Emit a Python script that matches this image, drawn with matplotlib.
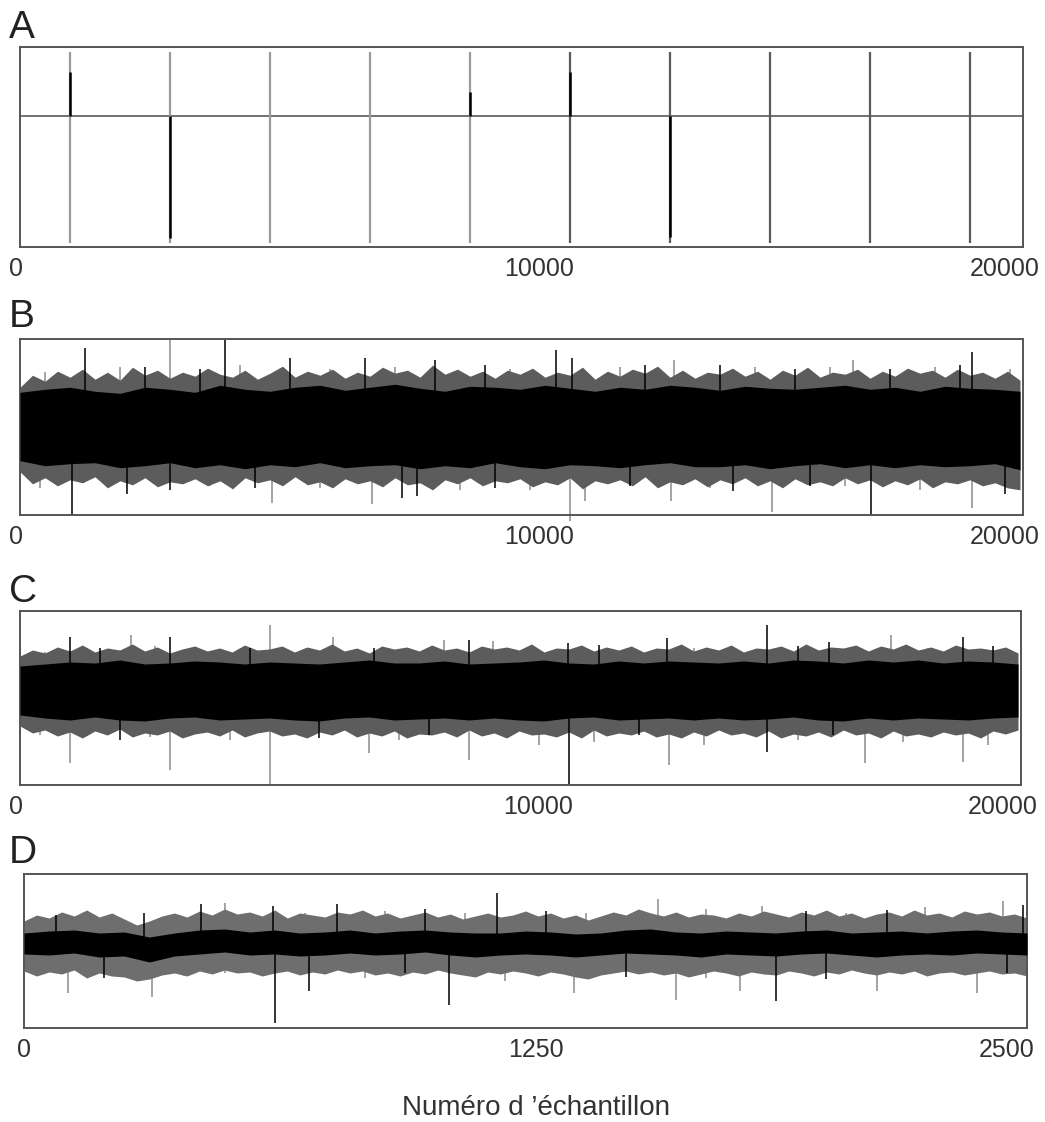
"""Four stacked traces: event train (A), two noisy recordings (B, C), zoom of one (D)."""

import matplotlib

matplotlib.use("Agg")
import matplotlib.pyplot as plt
import matplotlib.transforms as mtrans

plt.rcParams["font.family"] = ["Liberation Sans", "DejaVu Sans"]

# ---- data (amplitudes in arbitrary units, 0 = baseline) ----
# A: event positions, marker colours and the signal spike at each event
A_EVENTS = [1000, 3000, 5000, 7000, 9000, 11000, 13000, 15000, 17000, 19000]
A_MARK_COL = ["#9a9a9a"] * 5 + ["#5a5a5a"] * 5
A_SPIKE = [44, -122, 0, 0, 24, 44, -121, 0, 0, 0]
A_MARK_TOP, A_MARK_BOT = 64, -127

FRINGE_X_LONG = list(range(0, 20001, 250))
CORE_X_LONG = list(range(0, 20001, 500))
FRINGE_X_SHORT = [i * 31.25 for i in range(81)]
CORE_X_SHORT = [i * 62.5 for i in range(41)]

# B envelopes: outer (grey fringe) and inner (solid black core)
B_FRINGE_HI = [40, 52, 46, 56, 50, 58, 48, 55, 47, 60, 52, 57, 49, 55, 51, 59, 53, 50, 57, 48,
               54, 61, 50, 56, 52, 58, 49, 55, 51, 60, 54, 57, 50, 62, 53, 58, 51, 56, 49, 57,
               53, 59, 50, 55, 52, 60, 48, 56, 51, 58, 54, 61, 50, 57, 49, 55, 53, 59, 51, 56,
               48, 57, 52, 60, 50, 55, 53, 58, 49, 56, 51, 59, 54, 57, 50, 58, 52, 55, 49, 56, 47]
B_FRINGE_LO = [-44, -56, -50, -58, -52, -55, -49, -60, -53, -57, -50, -59, -54, -56, -51, -58,
               -53, -61, -50, -55, -52, -58, -49, -57, -54, -60, -51, -56, -53, -59, -50, -57,
               -55, -62, -52, -56, -50, -58, -53, -55, -51, -59, -54, -57, -50, -61, -53, -56,
               -52, -58, -49, -60, -54, -57, -51, -59, -52, -56, -50, -58, -53, -60, -51, -57,
               -54, -58, -50, -56, -52, -59, -53, -57, -51, -60, -54, -56, -52, -58, -55, -60, -62]
B_CORE_HI = [35, 38, 40, 36, 34, 40, 38, 35, 42, 38, 36, 40, 42, 37, 40, 43, 39, 36, 41, 40, 38,
             42, 39, 36, 40, 38, 42, 40, 37, 41, 39, 38, 40, 42, 38, 40, 36, 41, 39, 38, 36]
B_CORE_LO = [-33, -38, -36, -35, -40, -38, -35, -40, -37, -41, -37, -39, -35, -40, -38, -37, -41,
             -38, -40, -35, -39, -41, -37, -38, -40, -37, -35, -39, -39, -37, -41, -38, -36, -40,
             -37, -40, -37, -39, -38, -36, -42]
B_SPIKES = [  # (sample, peak, colour) 'k' black, 'g' grey
    (1300, 79, "k"), (3000, 88, "g"), (4100, 88, "k"), (5400, 69, "k"), (6900, 69, "k"),
    (8300, 67, "k"), (10730, 77, "k"), (11050, 69, "k"), (13080, 67, "g"), (16670, 67, "g"),
    (19040, 75, "k"), (500, 55, "g"), (2000, 60, "g"), (2500, 60, "k"), (3600, 58, "k"),
    (4400, 62, "g"), (6200, 58, "g"), (7500, 60, "g"), (9300, 62, "k"), (9800, 58, "g"),
    (12000, 60, "g"), (12500, 62, "k"), (14000, 62, "k"), (14700, 60, "g"), (15500, 58, "k"),
    (16200, 60, "g"), (17400, 58, "k"), (18300, 60, "g"), (18800, 62, "k"), (19800, 58, "g"),
    (1050, -87, "k"), (2150, -66, "k"), (5050, -75, "g"), (7050, -76, "g"), (7650, -70, "k"),
    (7950, -68, "k"), (11000, -93, "g"), (11300, -73, "g"), (13020, -73, "g"), (14270, -63, "k"),
    (15040, -84, "g"), (17030, -88, "k"), (19040, -80, "g"), (400, -60, "g"), (3000, -62, "k"),
    (3800, -58, "g"), (4700, -60, "k"), (6000, -60, "g"), (8800, -62, "g"), (9500, -60, "k"),
    (10200, -62, "g"), (12200, -58, "k"), (13800, -60, "g"), (15800, -58, "k"), (16500, -58, "g"),
    (18000, -62, "g"), (19700, -66, "k"),
]

# C envelopes
C_FRINGE_HI = [34, 40, 37, 43, 39, 45, 38, 42, 40, 46, 39, 43, 37, 41, 44, 39, 42, 38, 45, 40,
               41, 44, 38, 43, 40, 46, 39, 42, 37, 44, 41, 43, 39, 45, 40, 42, 38, 44, 41, 43,
               40, 46, 38, 42, 41, 45, 39, 43, 40, 44, 38, 42, 41, 46, 39, 43, 40, 45, 38, 42,
               41, 44, 39, 46, 40, 43, 42, 45, 39, 44, 41, 46, 40, 43, 39, 45, 41, 42, 40, 43, 37]
C_FRINGE_LO = [-36, -43, -40, -46, -42, -48, -41, -45, -39, -47, -43, -45, -41, -48, -44, -42,
               -46, -40, -47, -43, -41, -46, -44, -48, -42, -45, -40, -47, -43, -46, -41, -48,
               -44, -45, -42, -47, -40, -46, -43, -48, -41, -45, -44, -47, -42, -48, -40, -46,
               -43, -45, -41, -47, -44, -48, -42, -46, -40, -45, -43, -47, -41, -48, -44, -46,
               -42, -47, -40, -45, -43, -48, -41, -46, -44, -47, -42, -45, -43, -48, -41, -44, -40]
C_CORE_HI = [24, 26, 28, 27, 30, 26, 27, 29, 28, 26, 28, 27, 26, 28, 30, 27, 27, 29, 26, 27, 28,
             30, 27, 26, 29, 27, 29, 28, 27, 29, 27, 30, 29, 27, 30, 28, 30, 27, 29, 28, 26]
C_CORE_LO = [-25, -28, -30, -27, -30, -31, -28, -27, -30, -29, -28, -30, -31, -28, -27, -30, -29,
             -28, -30, -28, -30, -31, -28, -27, -30, -29, -28, -30, -28, -30, -29, -27, -30, -31,
             -28, -30, -28, -29, -30, -28, -27]
C_SPIKES = [
    (1010, 53, "k"), (2230, 55, "g"), (3010, 53, "k"), (5010, 65, "g"), (6270, 53, "g"),
    (8500, 50, "g"), (9000, 50, "k"), (9480, 49, "g"), (10990, 47, "k"), (12970, 52, "k"),
    (14960, 65, "k"), (16210, 48, "k"), (17450, 55, "g"), (18900, 53, "k"), (500, 38, "g"),
    (1600, 42, "k"), (2700, 44, "g"), (4000, 40, "g"), (4600, 42, "k"), (5800, 40, "g"),
    (7100, 42, "k"), (7800, 38, "g"), (10200, 42, "g"), (11600, 45, "k"), (12300, 40, "g"),
    (13500, 42, "g"), (15600, 44, "k"), (16700, 40, "g"), (18200, 42, "g"), (19500, 44, "k"),
    (1010, -73, "g"), (3010, -80, "g"), (5010, -95, "g"), (7000, -63, "g"), (9000, -70, "g"),
    (11000, -95, "k"), (13000, -75, "g"), (14960, -62, "k"), (16940, -73, "g"), (18900, -72, "g"),
    (400, -45, "g"), (2000, -50, "k"), (2600, -47, "g"), (4200, -50, "g"), (6000, -48, "k"),
    (7600, -50, "g"), (8200, -45, "k"), (10400, -55, "g"), (11500, -52, "g"), (12400, -45, "k"),
    (13700, -55, "g"), (15600, -50, "g"), (16300, -45, "k"), (17700, -52, "g"), (19400, -55, "g"),
]

# D envelopes (first 2500 samples)
D_FRINGE_HI = [22, 28, 25, 31, 27, 33, 26, 30, 24, 18, 22, 27, 30, 26, 32, 28, 34, 29, 31, 27,
               33, 25, 30, 28, 26, 31, 29, 33, 27, 30, 25, 28, 31, 26, 29, 24, 27, 30, 26, 28,
               32, 27, 30, 25, 28, 23, 27, 31, 28, 34, 30, 27, 31, 26, 29, 28, 25, 30, 27, 32,
               29, 26, 31, 28, 33, 27, 30, 25, 29, 31, 27, 33, 28, 30, 26, 32, 29, 31, 27, 29, 25]
D_FRINGE_LO = [-28, -33, -29, -31, -27, -35, -30, -33, -34, -38, -36, -32, -30, -33, -28, -31,
               -27, -30, -29, -33, -30, -28, -32, -29, -31, -27, -30, -28, -32, -30, -33, -29,
               -31, -27, -30, -32, -34, -29, -31, -28, -30, -33, -29, -31, -34, -36, -32, -30,
               -28, -31, -29, -32, -30, -34, -31, -28, -30, -33, -29, -31, -32, -28, -30, -33,
               -29, -31, -27, -30, -32, -29, -31, -28, -33, -30, -29, -32, -30, -28, -31, -30, -33]
D_CORE_HI = [10, 12, 13, 10, 11, 6, 10, 13, 14, 11, 13, 10, 11, 13, 10, 12, 13, 11, 10, 10, 12,
             11, 9, 10, 13, 14, 11, 10, 12, 11, 10, 12, 13, 10, 11, 12, 10, 12, 13, 11, 10]
D_CORE_LO = [-11, -12, -10, -14, -13, -19, -13, -11, -9, -12, -11, -13, -12, -10, -12, -11, -9,
             -12, -14, -12, -11, -12, -14, -12, -10, -11, -12, -14, -11, -12, -13, -11, -10, -12,
             -14, -12, -11, -12, -10, -11, -12]
D_SPIKES = [
    (440, 39, "k"), (500, 40, "g"), (620, 37, "k"), (780, 39, "k"), (1180, 50, "k"),
    (1580, 44, "g"), (1840, 37, "g"), (2245, 36, "g"), (2440, 42, "g"), (2490, 38, "k"),
    (80, 28, "k"), (160, 30, "g"), (300, 30, "k"), (700, 30, "g"), (900, 32, "g"),
    (1000, 34, "k"), (1100, 30, "g"), (1300, 32, "k"), (1400, 30, "g"), (1700, 34, "g"),
    (1950, 32, "k"), (2050, 30, "g"), (2150, 33, "k"), (2350, 30, "g"),
    (110, -50, "g"), (320, -54, "g"), (625, -80, "k"), (710, -48, "k"), (1060, -62, "k"),
    (1370, -50, "g"), (1625, -57, "g"), (1785, -48, "g"), (1875, -58, "k"), (2125, -48, "g"),
    (2375, -50, "g"), (50, -30, "g"), (200, -35, "k"), (400, -33, "g"), (500, -30, "g"),
    (850, -35, "g"), (950, -30, "k"), (1200, -38, "g"), (1500, -34, "k"), (1700, -35, "g"),
    (2000, -36, "k"), (2250, -33, "g"), (2450, -30, "k"),
]

TICKS_LONG = [0, 10000, 20000]
TICKS_SHORT = [0, 1250, 2500]
PANELS = ["A", "B", "C", "D"]
XLABEL = "Numéro d ’échantillon"

SPIKE_COL = {"k": "#000000", "g": "#8c8c8c"}
SPIKE_Z = {"k": 2, "g": 0.5}  # grey excursions sit under the fringe, black ones over it
W, H = 1045, 1122


def px_box(x0, y0, x1, y1):
    """Pixel rectangle (top-left origin) -> figure fraction [l, b, w, h]."""
    return [x0 / W, 1 - y1 / H, (x1 - x0) / W, (y1 - y0) / H]


def style(ax, xmax, ticks, ylim, offsets):
    ax.set_xlim(0, xmax)
    ax.set_ylim(*ylim)
    ax.set_yticks([])
    ax.set_xticks(ticks)
    ax.set_xticklabels([str(t) for t in ticks])
    ax.tick_params(axis="x", length=0, pad=7, labelsize=18, labelcolor="#333333")
    for lab, dx in zip(ax.get_xticklabels(), offsets):
        lab.set_transform(lab.get_transform()
                          + mtrans.ScaledTranslation(dx / 100, 0, fig.dpi_scale_trans))
    for sp in ax.spines.values():
        sp.set_color("#555555")
        sp.set_linewidth(1.4)


def noise_panel(ax, fx, fhi, flo, cx, chi, clo, spikes, fringe_col):
    # fringe, excursions, then the solid core on top so spikes only show outside it
    ax.fill_between(fx, flo, fhi, color=fringe_col, lw=0, zorder=1)
    for s, peak, c in spikes:
        ax.vlines(s, 0, peak, color=SPIKE_COL[c], lw=1.1, clip_on=False, zorder=SPIKE_Z[c])
    ax.fill_between(cx, clo, chi, color="#000000", lw=0, zorder=3)


fig = plt.figure(figsize=(W / 100, H / 100), dpi=100)

axA = fig.add_axes(px_box(20, 47, 1023, 247))
axB = fig.add_axes(px_box(20, 339, 1023, 515))
axC = fig.add_axes(px_box(20, 611, 1021, 785))
axD = fig.add_axes(px_box(24, 874, 1027, 1028))

# A
axA.axhline(0, color="#666666", lw=1.3)
axA.vlines(A_EVENTS, A_MARK_BOT, A_MARK_TOP, colors=A_MARK_COL, lw=1.6)
for s, amp in zip(A_EVENTS, A_SPIKE):
    if amp:
        axA.vlines(s, 0, amp, color="#000000", lw=1.8)
style(axA, 20060, TICKS_LONG, (-131, 69), (-4, 19, -15))

noise_panel(axB, FRINGE_X_LONG, B_FRINGE_HI, B_FRINGE_LO, CORE_X_LONG, B_CORE_HI, B_CORE_LO,
            B_SPIKES, "#5c5c5c")
style(axB, 20060, TICKS_LONG, (-87, 88), (-4, 19, -15))

noise_panel(axC, FRINGE_X_LONG, C_FRINGE_HI, C_FRINGE_LO, CORE_X_LONG, C_CORE_HI, C_CORE_LO,
            C_SPIKES, "#5c5c5c")
style(axC, 20060, TICKS_LONG, (-95, 79), (-4, 19, -15))

noise_panel(axD, FRINGE_X_SHORT, D_FRINGE_HI, D_FRINGE_LO, CORE_X_SHORT, D_CORE_HI, D_CORE_LO,
            D_SPIKES, "#6e6e6e")
style(axD, 2500, TICKS_SHORT, (-85, 69), (0, 10, -20))

for lab, ypx in zip(PANELS, [38, 327, 602, 863]):
    fig.text(9 / W, 1 - ypx / H, lab, fontsize=28, color="#222222", va="baseline", ha="left")

fig.text(536 / W, 1 - 1115 / H, XLABEL, fontsize=20, color="#333333", ha="center",
         va="baseline")

fig.savefig("out.png", dpi=100)
